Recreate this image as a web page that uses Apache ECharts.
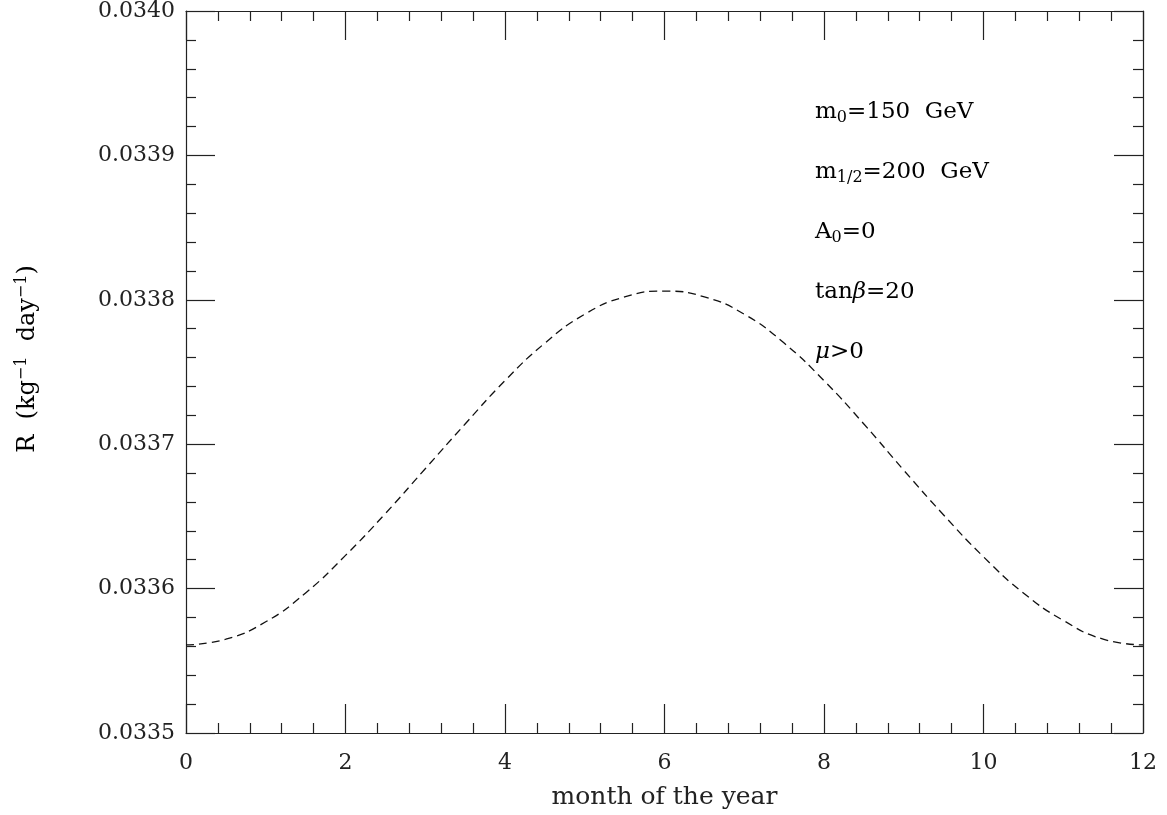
<!DOCTYPE html>
<html>
<head>
<meta charset="utf-8">
<title>R vs month</title>
<script src="https://cdn.jsdelivr.net/npm/echarts@6/dist/echarts.min.js"></script>
<style>
  html, body { margin: 0; padding: 0; background: #fff; }
  #main { width: 1167px; height: 815px; }
</style>
</head>
<body>
<div id="main"></div>
<script>
// month of the year (half-month steps)
const months = [0, 0.5, 1, 1.5, 2, 2.5, 3, 3.5, 4, 4.5, 5, 5.5, 6,
  6.5, 7, 7.5, 8, 8.5, 9, 9.5, 10, 10.5, 11, 11.5, 12];
// R (kg^-1 day^-1)
const rates = [0.033561, 0.033565, 0.033577, 0.033597, 0.033623, 0.033652,
  0.033683, 0.033714, 0.033744, 0.033770, 0.033790, 0.033802, 0.033806,
  0.033802, 0.033790, 0.033770, 0.033744, 0.033714, 0.033682, 0.033651,
  0.033622, 0.033597, 0.033578, 0.033565, 0.033561];
// parameter labels (rich text)
const notes = [
  "{t|m}{s|0}{t|=150  GeV}",
  "{t|m}{s|1/2}{t|=200  GeV}",
  "{t|A}{s|0}{t|=0}",
  "{t|tan}{i|β}{t|=20}",
  "{i|μ}{t|>0}"
];
const yTitle = "{t|R  (kg}{u|−1}{t|  day}{u|−1}{t|)}";

const FONT = "DejaVu Serif";
const INK = "#222";

const chart = echarts.init(document.getElementById("main"));

const richNotes = {
  t: { fontFamily: FONT, fontSize: 23, color: INK },
  s: { fontFamily: FONT, fontSize: 16, color: INK, verticalAlign: "bottom", padding: [12, 0, 0, 0] },
  i: { fontFamily: FONT, fontSize: 23, color: INK, fontStyle: "italic" }
};

function xAx(pos, showLabel) {
  return {
    type: "value", position: pos, min: 0, max: 12, interval: 2,
    axisLine: { show: true, onZero: false, lineStyle: { color: INK, width: 1.2 } },
    axisTick: { show: true, inside: true, length: 29, lineStyle: { color: INK, width: 1.2 } },
    minorTick: { show: true, splitNumber: 5, length: 10, lineStyle: { color: INK, width: 1.2 } },
    splitLine: { show: false },
    axisLabel: { show: showLabel, margin: 19, fontFamily: FONT, fontSize: 22, color: INK },
    name: showLabel ? "month of the year" : "",
    nameLocation: "middle", nameGap: 52,
    nameTextStyle: { fontFamily: FONT, fontSize: 25, color: INK }
  };
}

function yAx(pos, showLabel) {
  return {
    type: "value", position: pos, min: 0.0335, max: 0.034, interval: 0.0001,
    axisLine: { show: true, onZero: false, lineStyle: { color: INK, width: 1.2 } },
    axisTick: { show: true, inside: true, length: 29, lineStyle: { color: INK, width: 1.2 } },
    minorTick: { show: true, splitNumber: 5, length: 10, lineStyle: { color: INK, width: 1.2 } },
    splitLine: { show: false },
    axisLabel: { show: showLabel, margin: 11, padding: [6, 0, 0, 0], fontFamily: FONT, fontSize: 22, color: INK,
      formatter: (v) => v.toFixed(4) }
  };
}

chart.setOption({
  animation: false,
  backgroundColor: "#fff",
  grid: { left: 186, right: 24, top: 11, bottom: 78 },
  xAxis: [xAx("bottom", true), xAx("top", false)],
  yAxis: [yAx("left", true), yAx("right", false)],
  series: [{
    type: "line",
    data: months.map((m, k) => [m, rates[k]]),
    smooth: true,
    showSymbol: false,
    lineStyle: { color: "#111", width: 1.3, type: [8, 5] }
  }],
  graphic: notes.map((txt, k) => ({
    type: "text",
    x: 815,
    y: 112 + k * 60,
    style: { text: txt, rich: richNotes, verticalAlign: "middle" }
  })).concat([{
    type: "text",
    x: 28,
    y: 359,
    rotation: Math.PI / 2,
    style: {
      text: yTitle,
      align: "center",
      verticalAlign: "middle",
      rich: {
        t: { fontFamily: FONT, fontSize: 24, color: INK },
        u: { fontFamily: FONT, fontSize: 16, color: INK, verticalAlign: "top", padding: [0, 0, 12, 0] }
      }
    }
  }])
});
</script>
</body>
</html>
